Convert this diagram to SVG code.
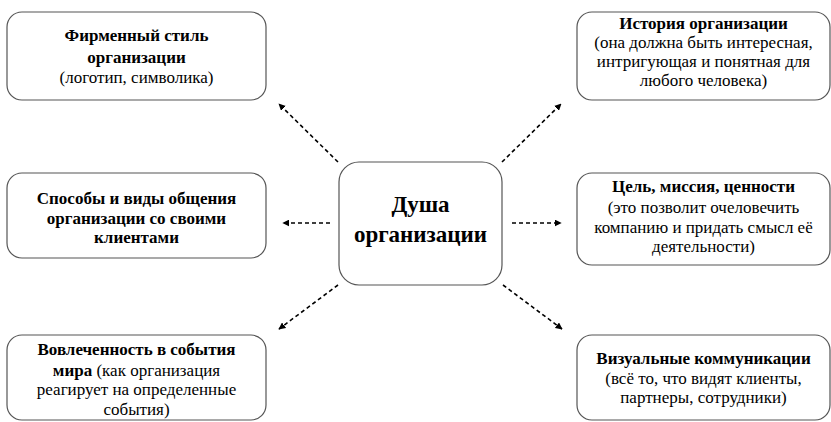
<svg xmlns="http://www.w3.org/2000/svg" width="831" height="422" viewBox="0 0 831 422" font-family="Liberation Serif, DejaVu Serif, serif">
<defs>
<marker id="ah" viewBox="0 0 10 10" refX="9" refY="5" markerWidth="7" markerHeight="7" markerUnits="userSpaceOnUse" orient="auto">
<path d="M0,0 L10,5 L0,10 z" fill="#000"/>
</marker>
<style>
.box{fill:#fff;stroke:#555;stroke-width:1.2}
.t{font-size:17px;fill:#000;text-anchor:middle}
.b{font-weight:bold}
.c{font-size:23px;font-weight:bold;fill:#000;text-anchor:middle}
.ar{stroke:#000;stroke-width:1.6;stroke-dasharray:4 3;fill:none;marker-end:url(#ah)}
</style>
</defs>
<rect width="831" height="422" fill="#fff"/>
<g id="connectors">
<line class="ar" x1="338" y1="162" x2="279" y2="104"/>
<line class="ar" x1="502" y1="162" x2="561" y2="104"/>
<line class="ar" x1="330" y1="223" x2="283" y2="223"/>
<line class="ar" x1="512" y1="223" x2="561" y2="223"/>
<line class="ar" x1="338" y1="285" x2="279" y2="329"/>
<line class="ar" x1="503" y1="285" x2="562" y2="329"/>
</g>
<g id="center">
<rect class="box" x="339" y="162" width="163" height="123" rx="20"/>
<text class="c" x="420.5" y="212" font-family="Liberation Serif">Душа</text>
<text class="c" x="420.5" y="242" font-family="Liberation Serif">организации</text>
</g>
<g id="style">
<rect class="box" x="7" y="12" width="259" height="88" rx="15"/>
<text class="t b" x="136.5" y="41">Фирменный стиль</text>
<text class="t b" x="136.5" y="63">организации</text>
<text class="t" x="136.5" y="83">(логотип, символика)</text>
</g>
<g id="history">
<rect class="box" x="577" y="12" width="253" height="88" rx="15"/>
<text class="t b" x="703.5" y="29">История организации</text>
<text class="t" x="703.5" y="48">(она должна быть интересная,</text>
<text class="t" x="703.5" y="67">интригующая и понятная для</text>
<text class="t" x="703.5" y="86">любого человека)</text>
</g>
<g id="communication">
<rect class="box" x="7" y="173" width="259" height="85" rx="15"/>
<text class="t b" x="136.5" y="204">Способы и виды общения</text>
<text class="t b" x="136.5" y="224">организации со своими</text>
<text class="t b" x="136.5" y="243">клиентами</text>
</g>
<g id="mission">
<rect class="box" x="577" y="173" width="253" height="92" rx="15"/>
<text class="t b" x="703.5" y="192">Цель, миссия, ценности</text>
<text class="t" x="703.5" y="213">(это позволит очеловечить</text>
<text class="t" x="703.5" y="233">компанию и придать смысл её</text>
<text class="t" x="703.5" y="252">деятельности)</text>
</g>
<g id="involvement">
<rect class="box" x="7" y="335" width="259" height="85" rx="15"/>
<text class="t b" x="136.5" y="355">Вовлеченность в события</text>
<text class="t" x="136.5" y="376"><tspan class="b">мира</tspan> (как организация</text>
<text class="t" x="136.5" y="395">реагирует на определенные</text>
<text class="t" x="136.5" y="415">события)</text>
</g>
<g id="visual">
<rect class="box" x="577" y="335" width="253" height="85" rx="15"/>
<text class="t b" x="703.5" y="364">Визуальные коммуникации</text>
<text class="t" x="703.5" y="384">(всё то, что видят клиенты,</text>
<text class="t" x="703.5" y="403">партнеры, сотрудники)</text>
</g>
</svg>
